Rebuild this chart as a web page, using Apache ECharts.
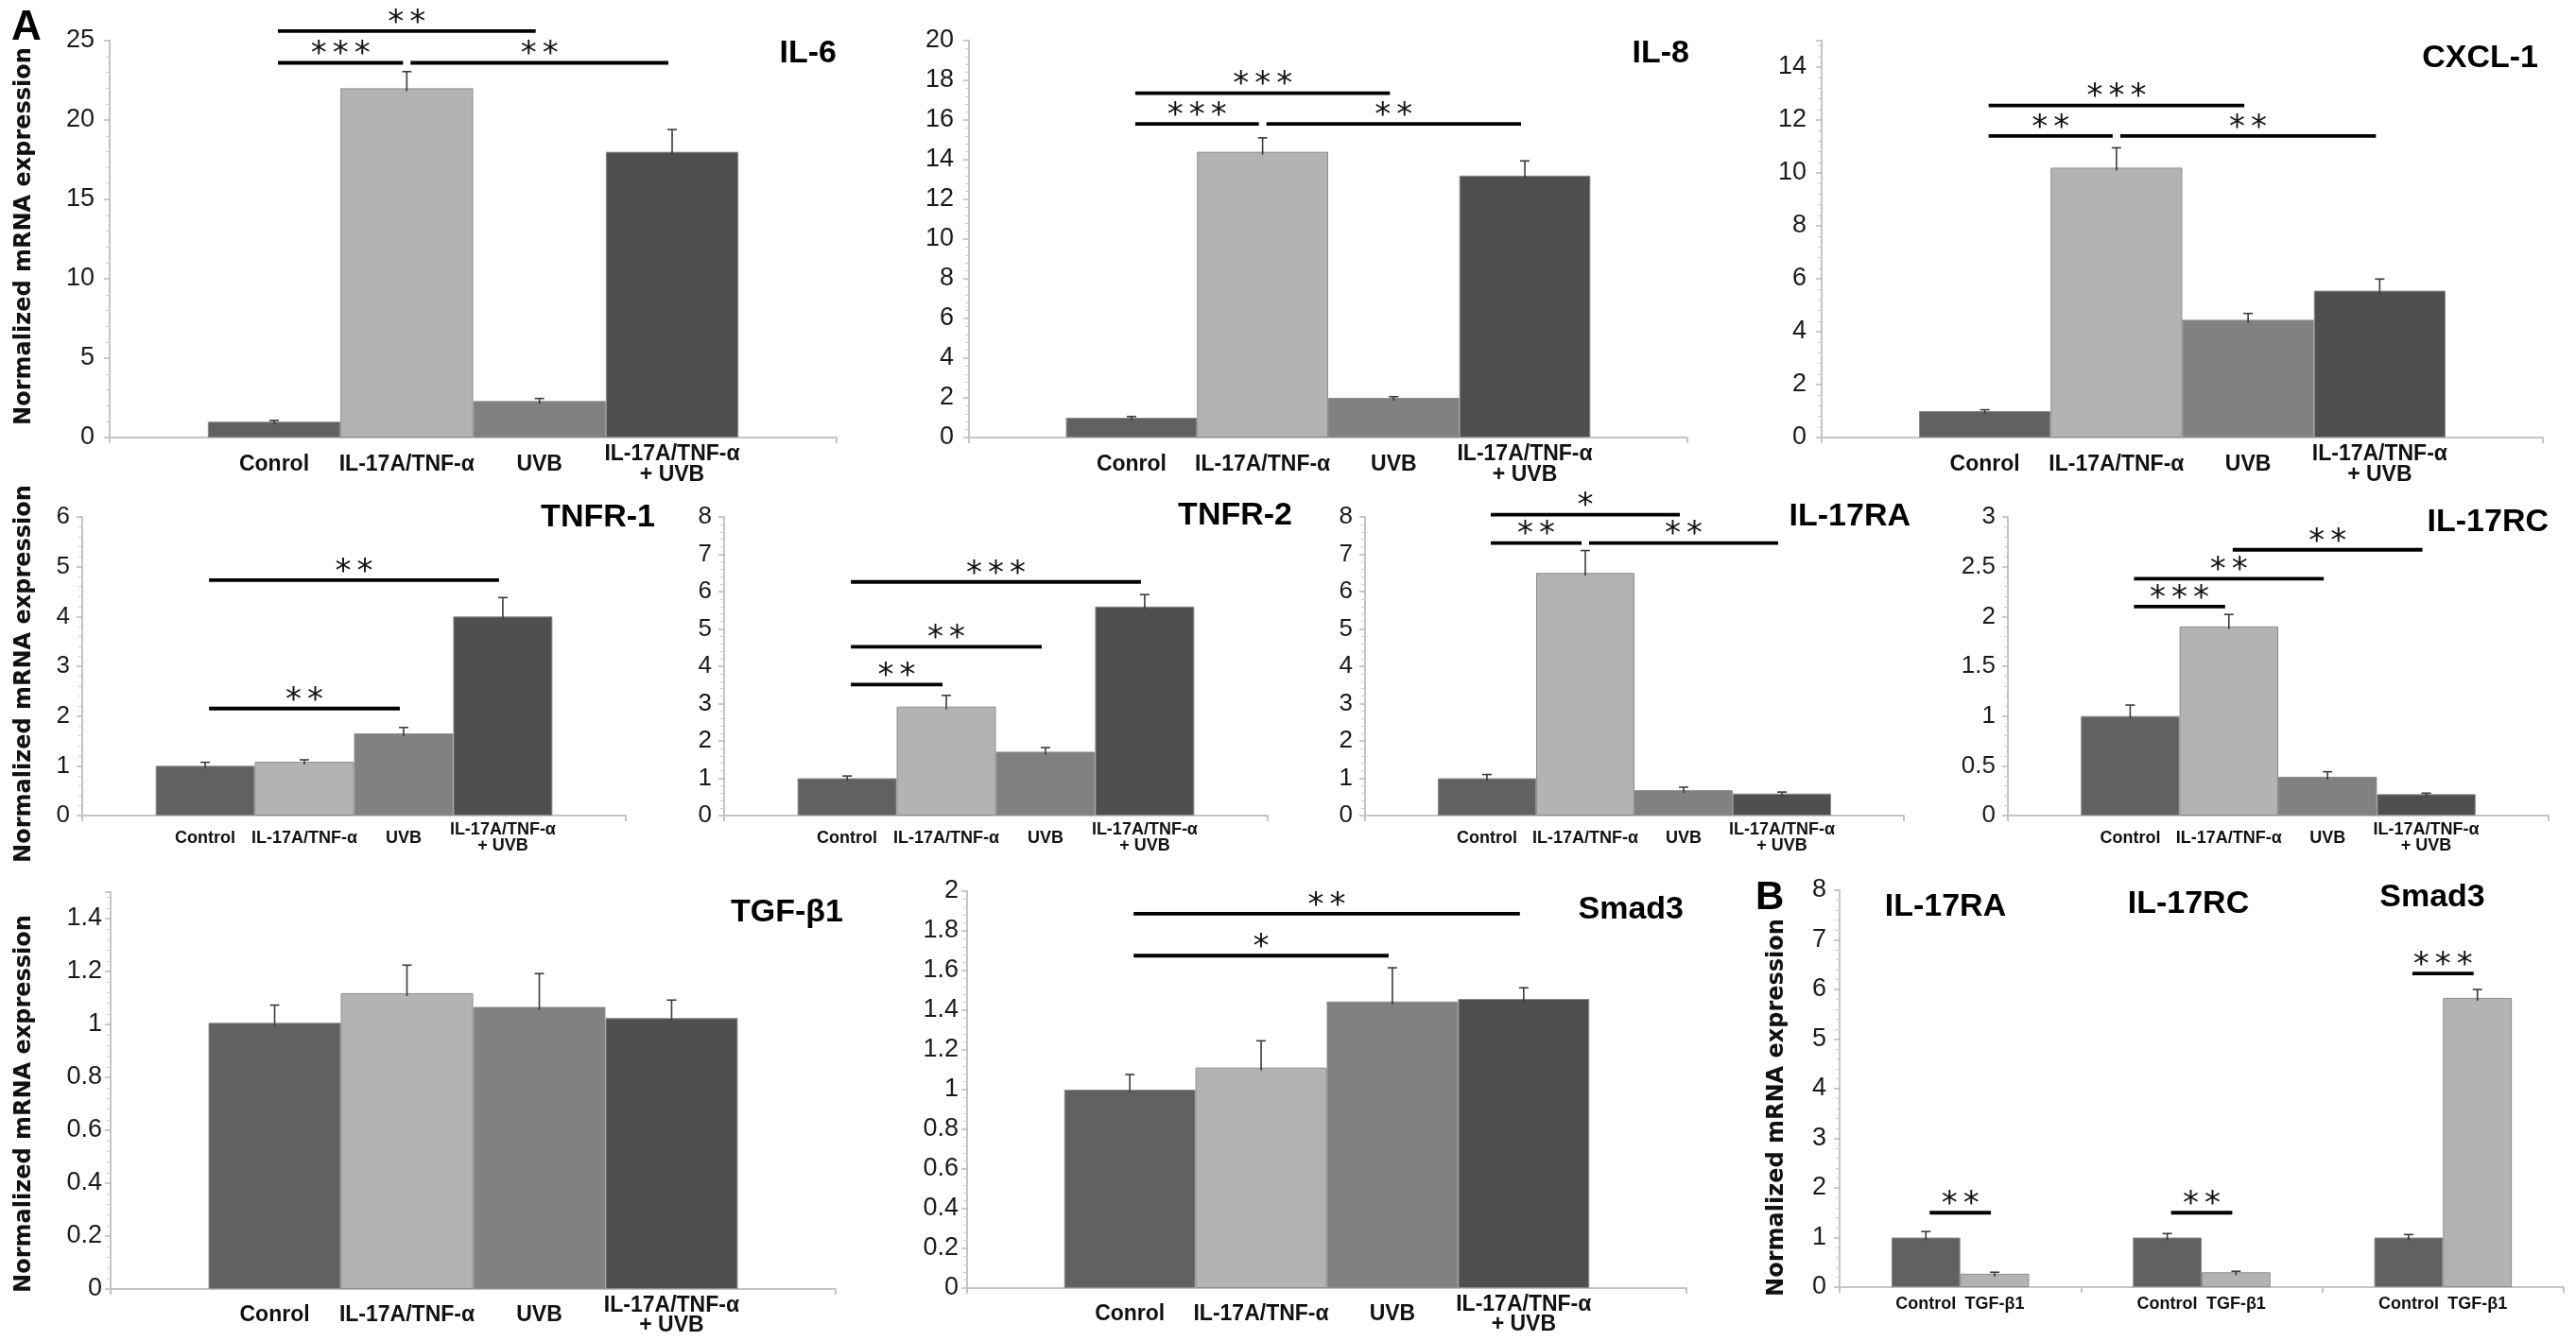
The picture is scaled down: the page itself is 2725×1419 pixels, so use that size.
<!DOCTYPE html>
<html>
<head>
<meta charset="utf-8">
<script src="https://cdn.jsdelivr.net/npm/echarts@6/dist/echarts.min.js"></script>
<style>
html,body{margin:0;padding:0;background:#fff;}
#chart{width:2725px;height:1419px;}
</style>
</head>
<body>
<div id="chart"></div>
<script>
// ---------- DATA ----------
const groupsA = ['Conrol', 'IL-17A/TNF-α', 'UVB', 'IL-17A/TNF-α\n+ UVB'];
const groupsB = ['Control', 'IL-17A/TNF-α', 'UVB', 'IL-17A/TNF-α\n+ UVB'];

const il6Mean = [1.0, 22.0, 2.3, 18.0];
const il6Err = [0.08, 1.05, 0.16, 1.4];
const il6Sig = [[0, 1, 23.6, '***'], [1, 3, 23.6, '**'], [0, 2, 25.6, '**']];
const il6Ticks = [0, 25, 5];

const il8Mean = [1.0, 14.4, 2.0, 13.2];
const il8Err = [0.06, 0.7, 0.06, 0.74];
const il8Sig = [[0, 1, 15.8, '***'], [1, 3, 15.8, '**'], [0, 2, 17.35, '***']];
const il8Ticks = [0, 20, 2];

const cxcl1Mean = [1.0, 10.2, 4.45, 5.55];
const cxcl1Err = [0.05, 0.75, 0.24, 0.44];
const cxcl1Sig = [[0, 1, 11.4, '**'], [1, 3, 11.4, '**'], [0, 2, 12.55, '***']];
const cxcl1Ticks = [0, 15, 2];

const tnfr1Mean = [1.0, 1.08, 1.65, 4.0];
const tnfr1Err = [0.07, 0.04, 0.12, 0.38];
const tnfr1Sig = [[0, 2, 2.15, '**'], [0, 3, 4.73, '**']];
const tnfr1Ticks = [0, 6, 1];

const tnfr2Mean = [1.0, 2.92, 1.71, 5.6];
const tnfr2Err = [0.06, 0.3, 0.11, 0.32];
const tnfr2Sig = [[0, 1, 3.51, '**'], [0, 2, 4.52, '**'], [0, 3, 6.26, '***']];
const tnfr2Ticks = [0, 8, 1];

const il17raMean = [1.0, 6.5, 0.68, 0.59];
const il17raErr = [0.1, 0.6, 0.08, 0.04];
const il17raSig = [[0, 1, 7.3, '**'], [1, 3, 7.3, '**'], [0, 2, 8.06, '*']];
const il17raTicks = [0, 8, 1];

const il17rcMean = [1.0, 1.9, 0.39, 0.215];
const il17rcErr = [0.11, 0.12, 0.05, 0.01];
const il17rcSig = [[0, 1, 2.10, '***'], [0, 2, 2.38, '**'], [1, 3, 2.67, '**']];
const il17rcTicks = [0, 3, 0.5];

const tgfMean = [1.006, 1.118, 1.066, 1.024];
const tgfErr = [0.067, 0.106, 0.126, 0.068];
const tgfSig = [];
const tgfTicks = [0, 1.5, 0.2];

const smad3Mean = [1.0, 1.111, 1.444, 1.457];
const smad3Err = [0.076, 0.135, 0.17, 0.056];
const smad3Sig = [[0, 2, 1.675, '*'], [0, 3, 1.886, '**']];
const smad3Ticks = [0, 2, 0.2];

// Panel B
const bGenes = ['IL-17RA', 'IL-17RC', 'Smad3'];
const bGroups = ['Control', 'TGF-β1'];
const bControlMean = [1.0, 1.0, 1.0];
const bControlErr = [0.12, 0.08, 0.06];
const bTgfMean = [0.27, 0.30, 5.83];
const bTgfErr = [0.03, 0.02, 0.17];
const bSig = [[0, 0, 1, 1.5, '**'], [1, 0, 1, 1.5, '**'], [2, 0, 1, 6.32, '***']];
const bTicks = [0, 8, 1];

// ---------- STYLE / LAYOUT ----------
const COL4 = ['#616161', '#b3b3b3', '#818181', '#4f4f4f'];
const COL2 = ['#616161', '#b3b3b3'];
const AXIS_COL = '#c4c4c4';
const SANS = 'Liberation Sans, Arial, sans-serif';

const rowStyle = {
  1: {tick: 27, lab: 23, lh: 22, labDist: 29, margin: 16},
  2: {tick: 26, lab: 18, lh: 17, labDist: 24, margin: 13},
  3: {tick: 27, lab: 23, lh: 21, labDist: 28, margin: 9},
  4: {tick: 27, lab: 18, lh: 18, labDist: 18, margin: 14}
};

function four(title, groups, mean, err, sig, ticks, box, row, tpos, maxLabel) {
  return {
    title, cats: [''], names: groups, colors: COL4,
    means: mean.map(v => [v]), errs: err.map(v => [v]),
    sig: sig.map(s => [0, s[0], s[1], s[2], s[3]]),
    ticks, box, row, tpos, gap: 0.27, maxLabel: maxLabel !== false
  };
}

const panels = [
  four('IL-6', groupsA, il6Mean, il6Err, il6Sig, il6Ticks, [116, 43, 769, 420], 1, [885, 57]),
  four('IL-8', groupsA, il8Mean, il8Err, il8Sig, il8Ticks, [1025, 43, 760, 420], 1, [1787, 57]),
  four('CXCL-1', groupsA, cxcl1Mean, cxcl1Err, cxcl1Sig, cxcl1Ticks, [1927, 43, 763, 420], 1, [2685, 62], false),
  four('TNFR-1', groupsB, tnfr1Mean, tnfr1Err, tnfr1Sig, tnfr1Ticks, [87, 547, 575, 316], 2, [693, 548]),
  four('TNFR-2', groupsB, tnfr2Mean, tnfr2Err, tnfr2Sig, tnfr2Ticks, [766, 547, 575, 316], 2, [1367, 546]),
  four('IL-17RA', groupsB, il17raMean, il17raErr, il17raSig, il17raTicks, [1444, 547, 570, 316], 2, [2021, 547]),
  four('IL-17RC', groupsB, il17rcMean, il17rcErr, il17rcSig, il17rcTicks, [2124, 547, 572, 316], 2, [2696, 553]),
  four('TGF-β1', groupsA, tgfMean, tgfErr, tgfSig, tgfTicks, [117, 944, 767, 420], 3, [892, 966], false),
  four('Smad3', groupsA, smad3Mean, smad3Err, smad3Sig, smad3Ticks, [1023, 943, 761, 420], 3, [1781, 963]),
  {
    title: null, cats: bGenes, names: bGroups, colors: COL2,
    means: [bControlMean, bTgfMean], errs: [bControlErr, bTgfErr],
    sig: bSig, ticks: bTicks, box: [1946, 942, 766, 420], row: 4, gap: 0.43, maxLabel: true
  }
];

// ---------- BUILD ----------
function barCenter(api, cat, s, n, gap) {
  const band = api.size([1, 0])[0];
  const total = band * (1 - gap);
  const c = api.coord([cat, 0]);
  return c[0] - total / 2 + (s + 0.5) * total / n;
}

const option = {
  animation: false,
  backgroundColor: '#ffffff',
  grid: [], xAxis: [], yAxis: [], series: [],
  graphic: {elements: []}
};

const STAR_PITCH = 23;

panels.forEach((p, k) => {
  const st = rowStyle[p.row];
  const n = p.names.length;
  option.grid.push({
    left: p.box[0], top: p.box[1], width: p.box[2], height: p.box[3],
    containLabel: false, outerBoundsMode: 'none'
  });
  option.xAxis.push({
    type: 'category', gridIndex: k, data: p.cats,
    axisLine: {show: true, onZero: false, lineStyle: {color: AXIS_COL, width: 2}},
    axisTick: {show: true, alignWithLabel: false, length: 6, lineStyle: {color: AXIS_COL, width: 2}},
    axisLabel: {show: false},
    splitLine: {show: false}
  });
  option.yAxis.push({
    type: 'value', gridIndex: k,
    min: p.ticks[0], max: p.ticks[1], interval: p.ticks[2],
    axisLine: {show: true, lineStyle: {color: AXIS_COL, width: 2}},
    axisTick: {show: true, length: 6, lineStyle: {color: '#b8b8b8', width: 1.5}},
    minorTick: {show: true, splitNumber: 5, length: 4, lineStyle: {color: '#cccccc', width: 1}},
    splitLine: {show: false}, minorSplitLine: {show: false},
    axisLabel: {
      show: true, margin: st.margin, fontSize: st.tick, fontFamily: SANS,
      color: '#1a1a1a', showMaxLabel: p.maxLabel, showMinLabel: true
    }
  });
  // bars
  for (let s = 0; s < n; s++) {
    option.series.push({
      type: 'bar', name: p.names[s], xAxisIndex: k, yAxisIndex: k,
      data: p.means[s],
      barGap: '0%', barCategoryGap: (p.gap * 100) + '%',
      itemStyle: {color: p.colors[s], borderColor: '#8c8c8c', borderWidth: 1},
      label: {
        show: true, position: 'bottom', distance: st.labDist,
        verticalAlign: 'middle', align: 'center',
        formatter: (prm) => prm.seriesName,
        fontFamily: SANS, fontWeight: 'bold', fontSize: st.lab,
        lineHeight: st.lh, color: '#111'
      },
      emphasis: {disabled: true},
      z: 2
    });
  }
  // error bars
  const errData = [];
  for (let s = 0; s < n; s++) {
    for (let c = 0; c < p.cats.length; c++) {
      errData.push([c, p.means[s][c], s, p.errs[s][c]]);
    }
  }
  option.series.push({
    type: 'custom', xAxisIndex: k, yAxisIndex: k,
    encode: {x: 0, y: 1},
    data: errData, z: 5, silent: true,
    renderItem: function (params, api) {
      const cat = api.value(0), m = api.value(1), s = api.value(2), e = api.value(3);
      const cx = barCenter(api, cat, s, n, p.gap);
      const y0 = api.coord([cat, m])[1];
      const y1 = api.coord([cat, m + e])[1];
      const ls = {stroke: '#3a3a3a', lineWidth: 1.6};
      return {
        type: 'group', children: [
          {type: 'line', shape: {x1: cx, y1: y0 + 3, x2: cx, y2: y1}, style: ls},
          {type: 'line', shape: {x1: cx - 5, y1: y1, x2: cx + 5, y2: y1}, style: ls}
        ]
      };
    }
  });
  // significance brackets
  if (p.sig.length) {
    option.series.push({
      type: 'custom', xAxisIndex: k, yAxisIndex: k,
      encode: {x: 0, y: 1},
      data: p.sig.map(d => [d[0], d[3]]), z: 6, silent: true, clip: false,
      renderItem: function (params, api) {
        const d = p.sig[params.dataIndex];
        const x1 = barCenter(api, d[0], d[1], n, p.gap) + 4;
        const x2 = barCenter(api, d[0], d[2], n, p.gap) - 4;
        const y = api.coord([d[0], d[3]])[1];
        const children = [
          {type: 'line', shape: {x1: x1, y1: y, x2: x2, y2: y},
           style: {stroke: '#000', lineWidth: 3.8}}
        ];
        const ns = d[4].length;
        const mid = (x1 + x2) / 2;
        for (let j = 0; j < ns; j++) {
          children.push({
            type: 'text', x: mid + (j - (ns - 1) / 2) * STAR_PITCH, y: y - 8,
            style: {text: '*', align: 'center', verticalAlign: 'middle',
                    font: '34px "DejaVu Sans"', fill: '#111'}
          });
        }
        return {type: 'group', children: children};
      }
    });
  }
  // panel title
  if (p.title) {
    option.graphic.elements.push({
      type: 'text', x: p.tpos[0], y: p.tpos[1], silent: true,
      style: {text: p.title, align: 'right', verticalAlign: 'middle',
              font: 'bold 34px ' + SANS, fill: '#000'}
    });
  }
});

// B-panel gene titles (centered over their category groups)
const bTitlePos = [[2058, 960], [2315, 957], [2573, 950]];
bGenes.forEach((g, i) => {
  option.graphic.elements.push({
    type: 'text', x: bTitlePos[i][0], y: bTitlePos[i][1], silent: true,
    style: {text: g, align: 'center', verticalAlign: 'middle',
            font: 'bold 34px ' + SANS, fill: '#000'}
  });
});

// Panel letters
option.graphic.elements.push(
  {type: 'text', x: 12, y: 30, silent: true,
   style: {text: 'A', align: 'left', verticalAlign: 'middle', font: 'bold 44px ' + SANS, fill: '#000'}},
  {type: 'text', x: 1857, y: 950, silent: true,
   style: {text: 'B', align: 'left', verticalAlign: 'middle', font: 'bold 42px ' + SANS, fill: '#000'}}
);

// Y-axis titles
const yTitle = 'Normalized mRNA expression';
[[26, 250], [26, 713], [26, 1168], [1880, 1172]].forEach(pos => {
  option.graphic.elements.push({
    type: 'text', x: pos[0], y: pos[1], rotation: Math.PI / 2, silent: true,
    style: {text: yTitle, align: 'center', verticalAlign: 'middle',
            font: 'bold 24px "DejaVu Sans"', fill: '#111'}
  });
});

const chart = echarts.init(document.getElementById('chart'), null, {renderer: 'canvas'});
chart.setOption(option);
</script>
</body>
</html>
